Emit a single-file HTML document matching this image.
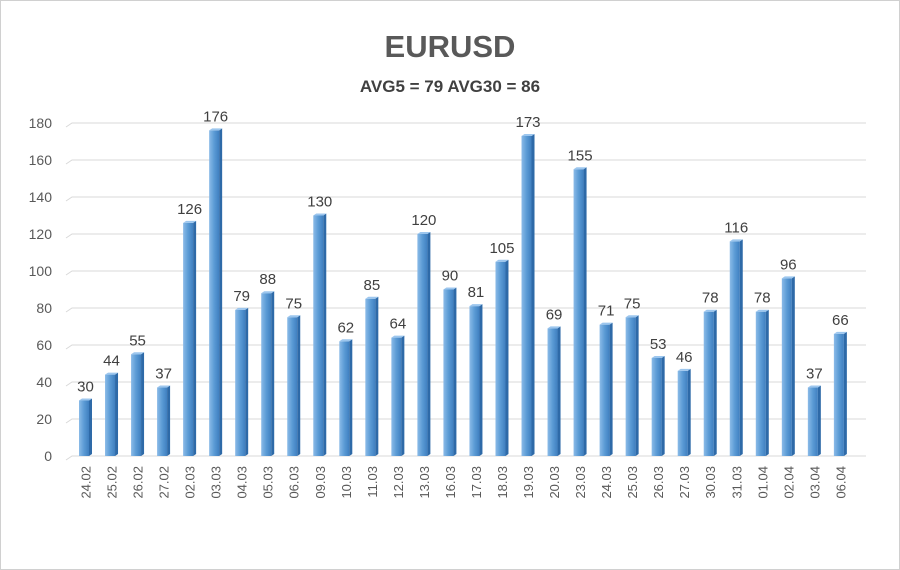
<!DOCTYPE html>
<html><head><meta charset="utf-8"><style>
body{margin:0;background:#fff}
svg{display:block;font-family:"Liberation Sans",sans-serif}
</style></head><body>
<svg width="900" height="570" xmlns="http://www.w3.org/2000/svg">
<defs>
<linearGradient id="g" x1="0" x2="1" y1="0" y2="0">
<stop offset="0" stop-color="#8bbbe8"/><stop offset="0.5" stop-color="#5b9bd5"/><stop offset="1" stop-color="#3f7fc0"/>
</linearGradient>
</defs>
<rect x="0.5" y="0.5" width="899" height="569" fill="#fff" stroke="#d0d0d0"/>
<text x="450" y="57" text-anchor="middle" font-size="31" font-weight="bold" fill="#595959">EURUSD</text>
<text x="450" y="92" text-anchor="middle" font-size="17" font-weight="bold" fill="#404040">AVG5 = 79 AVG30 = 86</text>
<g id="grid" stroke="#d9d9d9" stroke-width="1"></g>
<g id="bars"></g>
<g id="ylab" font-size="14" fill="#595959" text-anchor="end"></g>
</svg>
<script>
const vals=[30,44,55,37,126,176,79,88,75,130,62,85,64,120,90,81,105,173,69,155,71,75,53,46,78,116,78,96,37,66];
const labs=["24.02","25.02","26.02","27.02","02.03","03.03","04.03","05.03","06.03","09.03","10.03","11.03","12.03","13.03","16.03","17.03","18.03","19.03","20.03","23.03","24.03","25.03","26.03","27.03","30.03","31.03","01.04","02.04","03.04","06.04"];
const ns="http://www.w3.org/2000/svg";
const svg=document.querySelector('svg');
function el(t,a,p,txt){const e=document.createElementNS(ns,t);for(const k in a)e.setAttribute(k,a[k]);if(txt!==undefined)e.textContent=txt;(p||svg).appendChild(e);return e;}
const y0=456,k=1.85;
const grid=document.getElementById('grid'),ylab=document.getElementById('ylab'),bars=document.getElementById('bars');
for(let v=0;v<=180;v+=20){const y=y0-v*k;
el('path',{d:`M66 ${y+4} L72 ${y} L866 ${y}`,fill:'none'},grid);
el('text',{x:52,y:y+5},ylab,String(v));}
vals.forEach((v,i)=>{const cx=85.5+i*26.03;const x=cx-6.5,w=10,top=y0-v*k;
el('rect',{x:x,y:top,width:w,height:y0-top,fill:'url(#g)'},bars);
el('path',{d:`M${x+w} ${top} l3 -2 l0 ${y0-top} l-3 2 z`,fill:'#2e6aa8'},bars);
el('path',{d:`M${x} ${top} l3 -2 l${w} 0 l-3 2 z`,fill:'#9cc6ee'},bars);
el('text',{x:cx,y:top-9,'text-anchor':'middle','font-size':15,fill:'#404040'},bars,String(v));
el('text',{x:0,y:0,transform:`translate(${cx+5},466) rotate(-90)`,'text-anchor':'end','font-size':13,fill:'#595959'},bars,labs[i]);
});
</script>
</body></html>
